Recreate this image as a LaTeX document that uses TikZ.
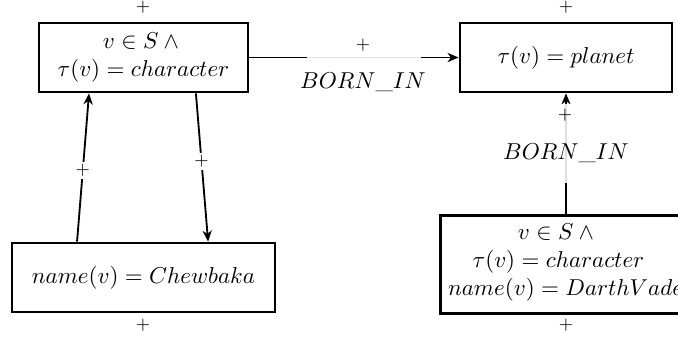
\documentclass[tikz,border=0pt]{standalone}
\usetikzlibrary{arrows.meta}
\begin{document}
\begin{tikzpicture}[x=0.435pt,y=-0.435pt,
  boxline/.style={draw,line width=1.25pt},
  box/.style={boxline,inner sep=0pt,align=center,font=\normalsize},
  conn/.style={line width=0.8pt,-{Stealth[length=4.8pt,width=4pt,inset=1.5pt]}},
  plus/.style={font=\fontsize{7.5}{8}\selectfont,inner sep=1pt,fill=white},
  edgeplus/.style={plus,fill=none,inner sep=0pt},
  lbl/.style={inner sep=0pt},
  veil/.style={fill=white,fill opacity=0.88,inner sep=0pt,draw=none}]
\clip (0,0) rectangle (678,337);
\useasboundingbox (0,0) rectangle (678,337);
% boxes
\node[box,minimum width=90.9pt,minimum height=30pt] (A) at (143.5,57.5)
  {$v \in S \wedge{}$\\$\tau(v) = character$};
\node[box,minimum width=92.2pt,minimum height=30pt] (B) at (566,57.5)
  {$\tau(v) = planet$};
\node[box,minimum width=114.4pt,minimum height=30pt] (C) at (143.5,277.5)
  {$name(v) = Chewbaka$};
\node[box,draw=none,inner xsep=2.6pt,minimum height=41.3pt] (D) at (558.5,262.5)
  {$v \in S \wedge{}$\\$\tau(v) = character$\\\makebox[96.1pt][l]{$name(v) = DarthVader$}};
\draw[boxline] ([yshift=-0.9pt]D.north west) rectangle ([xshift=30pt,yshift=-0.9pt]D.south east);
% connectors
\draw[conn] (A.east) -- (B.west)
  node[veil,pos=0.548,minimum width=49.6pt,minimum height=4pt] (vAB) {};
\draw[conn] ([yshift=-0.9pt]B.south |- D.north) -- (B.south)
  node[veil,pos=0.59,minimum width=4pt,minimum height=34pt] (vDB) {};
\draw[conn] ([xshift=22.8pt]A.south) -- ([xshift=28.1pt]C.north)
  node[plus,pos=0.46] (pAC) {+};
\draw[conn] ([xshift=-28.9pt]C.north) -- ([xshift=-23.7pt]A.south)
  node[plus,pos=0.48] (pCA) {+};
% labels
\node[edgeplus] (pA) at (143,7) {+};
\node[edgeplus] (pB) at (566,7) {+};
\node[edgeplus] (pC) at (143,325) {+};
\node[edgeplus] (pD) at (566,325) {+};
\node[edgeplus] (pAB) at (363,45) {+};
\node[lbl] (tAB) at (363,82) {$BORN\_IN$};
\node[edgeplus] (pDB) at (565,115) {+};
\node[lbl] (tDB) at (566,153) {$BORN\_IN$};
\end{tikzpicture}
\end{document}
